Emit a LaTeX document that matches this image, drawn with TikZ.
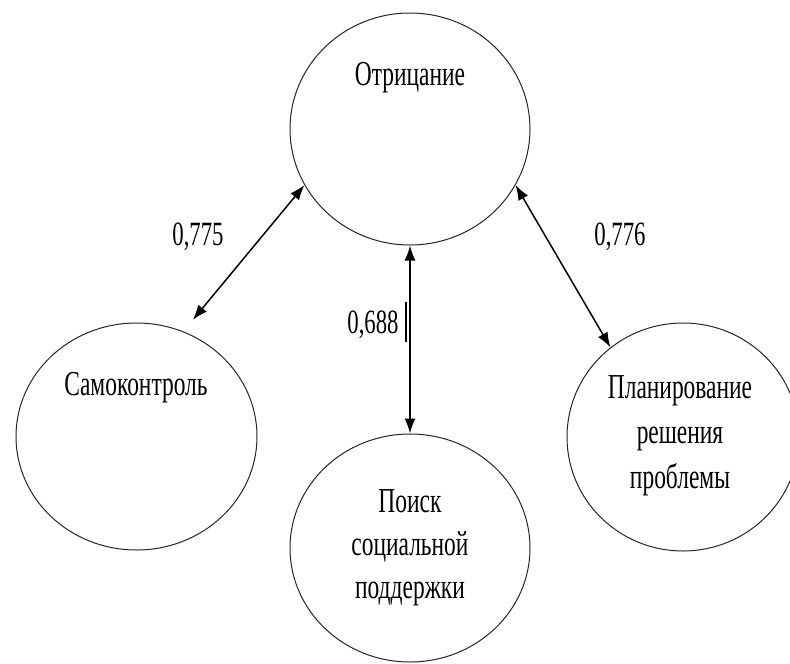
\documentclass[tikz,border=0pt]{standalone}
\usepackage{fontspec}
\setmainfont{Liberation Serif}[FakeStretch=0.67]
\usetikzlibrary{shapes.geometric,arrows.meta}
\begin{document}
\begin{tikzpicture}[x=1pt,y=-1pt,
  circ/.style={draw, ellipse, line width=1pt, inner sep=0pt, color=black!85},
  lbl/.style={align=center, inner sep=0pt, font=\fontsize{35}{43}\selectfont},
  num/.style={inner sep=0pt, font=\fontsize{34}{40}\selectfont},
  arr/.style={line width=1.5pt, {Latex[length=15pt,width=11pt]}-{Latex[length=15pt,width=11pt]}}]
\useasboundingbox (0,0) rectangle (790,664);
\fill[white] (0,0) rectangle (790,664);
\node[circ, minimum width=240pt, minimum height=232pt] (top) at (410,129) {};
\node[circ, minimum width=241pt, minimum height=227pt] (left) at (136.5,436.5) {};
\node[circ, minimum width=240pt, minimum height=228pt] (bot) at (410,548) {};
\node[circ, minimum width=232pt, minimum height=228pt] (right) at (683,437) {};
\node[lbl] (ttop) at (410,78) {Отрицание};
\node[lbl] (tleft) at (136,388) {Самоконтроль};
\node[lbl] (tbot) at (410,548) {Поиск\\социальной\\поддержки};
\node[lbl, font=\fontsize{35}{45}\selectfont] (tright) at (680,436) {Планирование\\решения\\проблемы};
\draw[arr, shorten <=15pt] (left.66) -- (top.208);
\draw[arr] (right.129) -- (top.332);
\draw[arr] (top.south) -- (bot.north);
\node[num] (n1) at (198,237) {0,775};
\node[num] (n2) at (620,237) {0,776};
\node[num] (n3) at (373,325) {0,688};
\coordinate (b1) at (406,302);
\coordinate (b2) at (406,342);
\draw[line width=1.5pt] (b1) -- (b2);
\end{tikzpicture}
\end{document}
